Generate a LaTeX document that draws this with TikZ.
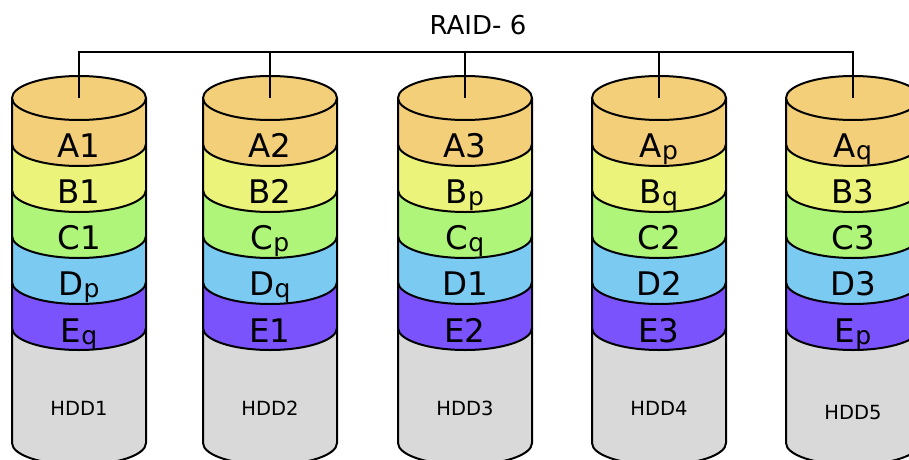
\documentclass[tikz,border=0pt]{standalone}
\usepackage{fontspec}
\setmainfont{DejaVu Sans}
\definecolor{bandA}{RGB}{243,207,122}
\definecolor{bandB}{RGB}{235,243,122}
\definecolor{bandC}{RGB}{174,245,122}
\definecolor{bandD}{RGB}{122,202,242}
\definecolor{bandE}{RGB}{123,83,253}
\definecolor{hddgray}{RGB}{217,217,217}
\newcommand\subl[1]{\raisebox{-2pt}{\fontsize{25}{25}\selectfont #1}}
\tikzset{
  disk/.style={draw=black, line width=2pt, line join=round},
  lbl/.style={anchor=base, inner sep=0pt, font=\fontsize{32.5}{32.5}\selectfont},
  hdd/.style={anchor=base, inner sep=0pt, font=\fontsize{19.5}{19.5}\selectfont},
  bus/.style={draw=black, line width=2pt},
}

\begin{document}
\begin{tikzpicture}[x=1pt,y=1pt]
            \clip (0,0) rectangle (909,459);
            \foreach \n/\x in {1/79,2/270,3/465,4/659,5/853} {
                % gray body of the disk
                \filldraw[disk,fill=hddgray] (\x-67,131) -- (\x-67,16)
                    arc[start angle=180,end angle=360,x radius=67,y radius=22] -- (\x+67,131) -- cycle;
                % stripes, bottom to top
                \foreach \y/\col in {131/bandE,177/bandD,223/bandC,269/bandB,315/bandA} {
                    \filldraw[disk,fill=\col] (\x-67,\y+46) -- (\x-67,\y)
                        arc[start angle=180,end angle=360,x radius=67,y radius=22] -- (\x+67,\y+46) -- cycle;
                }
                \filldraw[disk,fill=bandA] (\x,361) ellipse[x radius=67,y radius=22]; % lid
                \coordinate (top\n) at (\x,361);
                \coordinate (bus\n) at (\x,407);
            }

            \foreach \n/\x/\a/\b/\c/\d/\e/\h in {
                1/79/A1/B1/C1/D\subl{p}/E\subl{q}/44,
                2/270/A2/B2/C\subl{p}/D\subl{q}/E1/44,
                3/465/A3/B\subl{p}/C\subl{q}/D1/E2/44,
                4/659/A\subl{p}/B\subl{q}/C2/D2/E3/44,
                5/853/A\subl{q}/B3/C3/D3/E\subl{p}/40} {
                \node[lbl] (a\n) at (\x,302) {\a};
                \node[lbl] (b\n) at (\x,256) {\b};
                \node[lbl] (c\n) at (\x,210) {\c};
                \node[lbl] (d\n) at (\x,164) {\d};
                \node[lbl] (e\n) at (\x,117) {\e};
                \node[hdd] (hdd\n) at (\x,\h) {HDD\n};
            }

            \draw[bus] (top1) -- (bus1) -- (bus5) -- (top5); % array bus
            \foreach \n in {2,3,4} {
                \draw[bus] (top\n) -- (bus\n);
            }
            \node[anchor=base, inner sep=0pt, font=\fontsize{26}{26}\selectfont] (title) at (478,424) {RAID- 6};
\end{tikzpicture}
\end{document}
